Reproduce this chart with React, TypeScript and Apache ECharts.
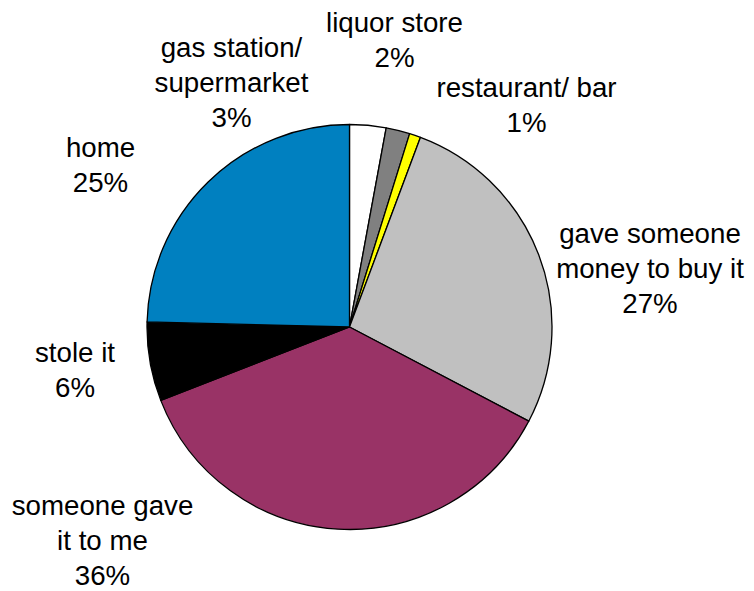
import React, { useEffect, useRef } from "react";
import * as echarts from "echarts";

const categories = [
  "gas station/\nsupermarket",
  "liquor store",
  "restaurant/ bar",
  "gave someone\nmoney to buy it",
  "someone gave\nit to me",
  "stole it",
  "home",
];
const shares = [2.9, 1.9, 0.9, 27.0, 36.4, 6.3, 24.6];
const sliceColors = ["#FFFFFF", "#808080", "#FFFF00", "#C0C0C0", "#993366", "#000000", "#0080C0"];
// label block centres (px) for each slice
const labelAnchors: [number, number][] = [
  [231.5, 82],
  [394.5, 39.5],
  [526.5, 104.5],
  [650, 268],
  [102.5, 540],
  [75, 369.5],
  [100.5, 164.5],
];

export default function App() {
  const ref = useRef<HTMLDivElement>(null);
  useEffect(() => {
    if (!ref.current) return;
    const chart = echarts.init(ref.current, null, { renderer: "svg" });
    chart.setOption({
      animation: false,
      backgroundColor: "#FFFFFF",
      series: [
        {
          type: "pie",
          center: [349.5, 327],
          radius: 202.5,
          startAngle: 90,
          clockwise: true,
          avoidLabelOverlap: false,
          itemStyle: { borderColor: "#000000", borderWidth: 1.3 },
          emphasis: { disabled: true },
          label: {
            show: true,
            position: "outside",
            fontFamily: "Liberation Sans, Arial, sans-serif",
            fontSize: 27.7,
            lineHeight: 35,
            color: "#000000",
            align: "center",
            formatter: (p: any) => `${p.name}\n${Math.round(p.value)}%`,
          },
          labelLine: { show: false },
          labelLayout: (params: any) => {
            const a = labelAnchors[params.dataIndex];
            return { x: a[0], y: a[1], align: "center", verticalAlign: "middle" };
          },
          data: categories.map((name, i) => ({
            name,
            value: shares[i],
            itemStyle: { color: sliceColors[i] },
          })),
        },
      ],
    });
    return () => chart.dispose();
  }, []);
  return (
    <div
      ref={ref}
      style={{ position: "fixed", left: 0, top: 0, width: 754, height: 591 }}
    />
  );
}
